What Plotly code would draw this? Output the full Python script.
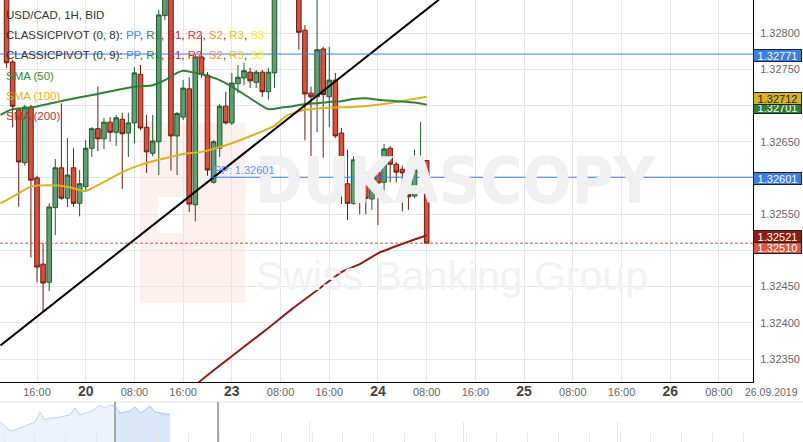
import plotly.graph_objects as go

# ---------------- data (x = hourly bar index, 0 = 19 Sep 16:00) ----------------
hours = list(range(-5, 65))
opens = [1.32866, 1.32760, 1.32694, 1.32621, 1.32698, 1.32600, 1.32481, 1.32456, 1.32559, 1.32614,
         1.32572, 1.32614, 1.32565, 1.32588, 1.32641, 1.32668, 1.32654, 1.32677, 1.32663, 1.32681,
         1.32662, 1.32676, 1.32743, 1.32670, 1.32634, 1.32650, 1.32824, 1.32872, 1.32658, 1.32684,
         1.32723, 1.32563, 1.32767, 1.32742, 1.32594, 1.32641, 1.32699, 1.32676, 1.32730, 1.32738,
         1.32746, 1.32732, 1.32746, 1.32719, 1.32745, 1.32870, 1.32905, 1.32884, 1.32866, 1.32804,
         1.32717, 1.32712, 1.32778, 1.32712, 1.32735, 1.32662, 1.32592, 1.32565, 1.32628, 1.32601,
         1.32571, 1.32608, 1.32594, 1.32641, 1.32619, 1.32612, 1.32608, 1.32575, 1.32607, 1.32624]
highs = [1.32887, 1.32763, 1.32697, 1.32701, 1.32701, 1.32603, 1.32510, 1.32565, 1.32626, 1.32703,
         1.32655, 1.32641, 1.32611, 1.32652, 1.32670, 1.32726, 1.32683, 1.32684, 1.32687, 1.32690,
         1.32690, 1.32753, 1.32756, 1.32687, 1.32687, 1.32832, 1.32890, 1.32885, 1.32691, 1.32735,
         1.32739, 1.32770, 1.32797, 1.32746, 1.32652, 1.32702, 1.32719, 1.32745, 1.32756, 1.32759,
         1.32752, 1.32749, 1.32749, 1.32752, 1.32880, 1.32912, 1.32918, 1.32895, 1.32875, 1.32811,
         1.32726, 1.32850, 1.32781, 1.32781, 1.32745, 1.32669, 1.32639, 1.32630, 1.32630, 1.32608,
         1.32615, 1.32611, 1.32647, 1.32644, 1.32622, 1.32617, 1.32611, 1.32639, 1.32677, 1.32625]
lows = [1.32752, 1.32670, 1.32560, 1.32617, 1.32490, 1.32456, 1.32414, 1.32444, 1.32521, 1.32570,
        1.32560, 1.32560, 1.32547, 1.32583, 1.32629, 1.32637, 1.32640, 1.32650, 1.32644, 1.32585,
        1.32629, 1.32648, 1.32666, 1.32607, 1.32630, 1.32604, 1.32818, 1.32610, 1.32604, 1.32680,
        1.32553, 1.32540, 1.32738, 1.32603, 1.32592, 1.32629, 1.32674, 1.32673, 1.32717, 1.32728,
        1.32724, 1.32724, 1.32712, 1.32708, 1.32724, 1.32862, 1.32872, 1.32855, 1.32777, 1.32652,
        1.32621, 1.32663, 1.32628, 1.32670, 1.32655, 1.32564, 1.32542, 1.32563, 1.32550, 1.32550,
        1.32556, 1.32535, 1.32565, 1.32594, 1.32594, 1.32554, 1.32556, 1.32572, 1.32603, 1.32510]
closes = [1.32759, 1.32699, 1.32622, 1.32698, 1.32597, 1.32477, 1.32455, 1.32560, 1.32614, 1.32572,
          1.32604, 1.32565, 1.32592, 1.32641, 1.32668, 1.32654, 1.32677, 1.32663, 1.32683, 1.32661,
          1.32676, 1.32745, 1.32669, 1.32636, 1.32651, 1.32825, 1.32875, 1.32658, 1.32689, 1.32724,
          1.32564, 1.32767, 1.32743, 1.32611, 1.32650, 1.32699, 1.32676, 1.32731, 1.32739, 1.32748,
          1.32734, 1.32746, 1.32719, 1.32746, 1.32870, 1.32905, 1.32884, 1.32866, 1.32801, 1.32716,
          1.32712, 1.32777, 1.32715, 1.32735, 1.32658, 1.32588, 1.32565, 1.32625, 1.32572, 1.32572,
          1.32608, 1.32593, 1.32640, 1.32619, 1.32608, 1.32607, 1.32574, 1.32611, 1.32624, 1.32510]

sma50_h = [-6, -4, -1, 5, 10, 16, 19, 21, 23, 24, 27, 30, 32, 35, 38, 40, 42, 44, 46, 48, 50, 52, 54, 56, 59, 62, 64]
sma50_v = [1.32687, 1.32695, 1.32697, 1.32708, 1.32716, 1.32726, 1.32728, 1.32735, 1.32745, 1.32748,
           1.32743, 1.32735, 1.32726, 1.32710, 1.32695, 1.32697, 1.32699, 1.32702, 1.32703, 1.32705,
           1.32706, 1.32709, 1.32710, 1.32708, 1.32706, 1.32704, 1.32701]
sma100_h = [-6, -4, -1, 2, 5, 8, 10, 14, 17, 20, 24, 27, 32, 36, 39, 41, 44, 48, 52, 56, 59, 64]
sma100_v = [1.32565, 1.32574, 1.32588, 1.32590, 1.32588, 1.32582, 1.32590, 1.32608, 1.32618, 1.32625,
            1.32633, 1.32636, 1.32648, 1.32661, 1.32672, 1.32686, 1.32694, 1.32697, 1.32698, 1.32701,
            1.32705, 1.32712]
sma200_h = [22, 26, 30, 34, 38, 42, 46, 50, 53, 56, 60, 64]
sma200_v = [1.32280, 1.32314, 1.32341, 1.32367, 1.32393, 1.32420, 1.32445, 1.32470, 1.32481, 1.32496,
            1.32509, 1.32521]
trend_h = [-6, 66]
trend_v = [1.32369, 1.32846]

pivot_top = 1.32771
pivot_pp = 1.32601
pivot_pp_start = 29
last_bid = 1.32510
sma50_last, sma100_last, sma200_last = 1.32701, 1.32712, 1.32521

x_ticks = [0, 8, 16, 24, 32, 40, 48, 56, 64, 72, 80, 88, 96, 104, 112]
x_labels = ["16:00", "20", "08:00", "16:00", "23", "08:00", "16:00", "24",
            "08:00", "16:00", "25", "08:00", "16:00", "26", "08:00"]
y_ticks = [1.3235, 1.3240, 1.3245, 1.3250, 1.3255, 1.3260, 1.3265, 1.3270, 1.3275, 1.3280]
y_hidden = [1.3250, 1.3260, 1.3270]

nav_vals = [20, 16, 11, 12, 14, 16, 18, 20, 30, 22, 24, 24, 25, 26, 27, 34, 27, 29, 30, 33, 37, 34,
            37, 36, 29, 30, 31, 35, 29, 32, 36, 30, 29, 28, 28]
nav_split = 23
nav_handles = [23, 43.6]

FONT = "Liberation Sans, Arial, sans-serif"
XR = [-6.077, 117.59]
YR = [1.323184, 1.328456]

fig = go.Figure()

fig.add_trace(go.Candlestick(
    x=hours, open=opens, high=highs, low=lows, close=closes,
    increasing=dict(line=dict(color="#1d5a2d", width=1), fillcolor="#5e9e73"),
    decreasing=dict(line=dict(color="#6b1a10", width=1), fillcolor="#d8513b"),
    showlegend=False, hoverinfo="skip"))

fig.add_trace(go.Scatter(x=sma100_h, y=sma100_v, mode="lines",
                         line=dict(color="#d6b224", width=2, shape="spline", smoothing=0.6),
                         showlegend=False, hoverinfo="skip"))
fig.add_trace(go.Scatter(x=sma50_h, y=sma50_v, mode="lines",
                         line=dict(color="#2f7f34", width=2, shape="spline", smoothing=0.6),
                         showlegend=False, hoverinfo="skip"))
fig.add_trace(go.Scatter(x=sma200_h, y=sma200_v, mode="lines",
                         line=dict(color="#8e1e10", width=2, shape="spline", smoothing=0.5),
                         showlegend=False, hoverinfo="skip"))
fig.add_trace(go.Scatter(x=trend_h, y=trend_v, mode="lines",
                         line=dict(color="#000000", width=2),
                         showlegend=False, hoverinfo="skip"))

# navigator
nav_x = [i for i in range(len(nav_vals))]
fig.add_trace(go.Scatter(x=nav_x[:nav_split + 1], y=nav_vals[:nav_split + 1], mode="lines",
                         fill="tozeroy", fillcolor="#edf3fd", line=dict(color="#bcd4f8", width=1),
                         xaxis="x2", yaxis="y2", showlegend=False, hoverinfo="skip"))
fig.add_trace(go.Scatter(x=nav_x[nav_split:], y=nav_vals[nav_split:], mode="lines",
                         fill="tozeroy", fillcolor="#dbe7fb", line=dict(color="#a9c7f5", width=1),
                         xaxis="x2", yaxis="y2", showlegend=False, hoverinfo="skip"))

shapes = []
# watermark logo
shapes.append(dict(type="rect", xref="paper", yref="paper", x0=140 / 753, x1=245 / 753,
                   y0=1 - 303 / 442, y1=1 - 123 / 442, fillcolor="#fdf0ee", line=dict(width=0), layer="below"))
shapes.append(dict(type="rect", xref="paper", yref="paper", x0=158 / 753, x1=182 / 753,
                   y0=1 - 233 / 442, y1=1 - 197 / 442, fillcolor="#ffffff", line=dict(width=0), layer="below"))
# pivot lines and bid line
shapes.append(dict(type="line", xref="paper", yref="y", x0=0, x1=1, y0=pivot_top, y1=pivot_top,
                   line=dict(color="#3b7ee6", width=1)))
shapes.append(dict(type="line", xref="x", yref="y", x0=pivot_pp_start - 0.5, x1=XR[1], y0=pivot_pp, y1=pivot_pp,
                   line=dict(color="#3b7ee6", width=1)))
shapes.append(dict(type="line", xref="paper", yref="y", x0=0, x1=1, y0=last_bid, y1=last_bid,
                   line=dict(color="#e0463a", width=1, dash="3px,2px")))
# navigator top border and handles
shapes.append(dict(type="line", xref="paper", yref="paper", x0=0, x1=803 / 753, y0=1 - 402 / 442, y1=1 - 402 / 442,
                   line=dict(color="#e3e3e3", width=1)))
for hx in nav_handles:
    shapes.append(dict(type="line", xref="x2", yref="paper", x0=hx, x1=hx, y0=0, y1=1 - 402 / 442,
                       line=dict(color="#a8a8a8", width=2)))

ann = []
def A(text, x, y, **kw):
    d = dict(text=text, x=x, y=y, xref="paper", yref="paper", showarrow=False,
             xanchor="left", yanchor="middle", font=dict(family=FONT, size=11.5, color="#333"))
    d.update(kw)
    ann.append(d)

# watermark text
A("<b>DUKASCOPY</b>", 456 / 753, 1 - 181 / 442, xanchor="center",
  font=dict(family="DejaVu Sans Condensed, Liberation Sans Narrow, Liberation Sans", size=64, color="#f0f0f0"))
A("Swiss Banking Group", 452 / 753, 1 - 276 / 442, xanchor="center",
  font=dict(family="Liberation Sans Narrow, Liberation Sans", size=41, color="#f2f2f2"))

piv = ('CLASSICPIVOT (0, {n}): <span style="color:#4a8bf3">PP</span>, <span style="color:#3a8a3a">R1</span>, '
       '<span style="color:#c0272d">S1</span>, <span style="color:#f02a2a">R2</span>, '
       '<span style="color:#ff8f1f">S2</span>, <span style="color:#f7c21b">R3</span>, '
       '<span style="color:#fff000">S3</span>')
A("USD/CAD, 1H, BID", 4 / 753, 1 - 15.5 / 442)
A(piv.format(n=8), 4 / 753, 1 - 35 / 442)
A(piv.format(n=9), 4 / 753, 1 - 55 / 442)
A("SMA (50)", 4 / 753, 1 - 76 / 442, font=dict(family=FONT, size=11.5, color="#3a8a3a"))
A("SMA (100)", 4 / 753, 1 - 96 / 442, font=dict(family=FONT, size=11.5, color="#d8b320"))
A("SMA (200)", 4 / 753, 1 - 116 / 442, font=dict(family=FONT, size=11.5, color="#a83a32"))

# PP label
ann.append(dict(text="PP: 1.32601", x=pivot_pp_start - 0.3, y=pivot_pp, xref="x", yref="y", showarrow=False,
                xanchor="left", yanchor="bottom", yshift=-1, font=dict(family=FONT, size=11, color="#5b95f3")))

# right axis value boxes
def box(val, bg, fg, shift):
    ann.append(dict(text=f"{val:.5f}", x=1, y=val, xref="paper", yref="y", showarrow=False,
                    xanchor="left", yanchor="middle", yshift=shift, width=47, height=11,
                    bgcolor=bg, bordercolor="#222", borderwidth=1, borderpad=0, align="center",
                    font=dict(family=FONT, size=11, color=fg)))
box(pivot_top, "#3b7ee6", "#ffffff", -1)
box(sma50_last, "#2e7d32", "#ffffff", -2.5)
box(sma100_last, "#d6b224", "#222222", -1.5)
box(pivot_pp, "#3b7ee6", "#ffffff", -1.5)
box(last_bid, "#dd5545", "#ffffff", -4)
box(sma200_last, "#8e1e10", "#ffffff", -1)

A("26.09.2019", 800 / 753, 1 - 392 / 442, xanchor="right", font=dict(family=FONT, size=10.5, color="#666"))

tick_text = []
for t in x_labels:
    if ":" in t:
        tick_text.append(t)
    else:
        tick_text.append(f'<span style="font-size:14px;font-weight:bold;fill:#444">{t}</span>')

fig.update_layout(
    width=803, height=442, margin=dict(l=0, r=50, t=0, b=0),
    paper_bgcolor="#ffffff", plot_bgcolor="#ffffff",
    showlegend=False, shapes=shapes, annotations=ann,
    font=dict(family=FONT), boxgap=0.25, boxgroupgap=0,
    xaxis=dict(domain=[0, 1], range=XR, anchor="y", tickvals=x_ticks, ticktext=tick_text,
               showgrid=True, gridcolor="#e6e6e6", gridwidth=1, zeroline=False,
               showline=True, linecolor="#000", linewidth=1, ticks="",
               tickfont=dict(family=FONT, size=11, color="#666"),
               rangeslider=dict(visible=False), automargin=False, fixedrange=True),
    yaxis=dict(domain=[60 / 442, 1], range=YR, side="right", anchor="x",
               tickvals=y_ticks,
               ticktext=["" if v in y_hidden else f"{v:.5f}" for v in y_ticks],
               showgrid=True, gridcolor="#e6e6e6", gridwidth=1, zeroline=False,
               showline=True, linecolor="#000", linewidth=1, ticks="", ticklabelstandoff=4,
               tickfont=dict(family=FONT, size=11, color="#666"), automargin=False),
    xaxis2=dict(domain=[0, 1], range=[0, 150.6], anchor="y2", showgrid=False, showticklabels=False,
                zeroline=False, showline=False, ticks="inside", tick0=31, dtick=30.8, ticklen=20,
                tickcolor="#e6e6e6", minor=dict(ticks="inside", dtick=6.16, tick0=0.8, ticklen=9, tickcolor="#e6e6e6"),
                automargin=False),
    yaxis2=dict(domain=[0, 40 / 442], range=[0, 40], visible=False, anchor="x2"),
)

fig.write_html("out.html", config={"displayModeBar": False},
               post_script="document.body.style.margin='0';document.body.style.overflow='hidden';")
